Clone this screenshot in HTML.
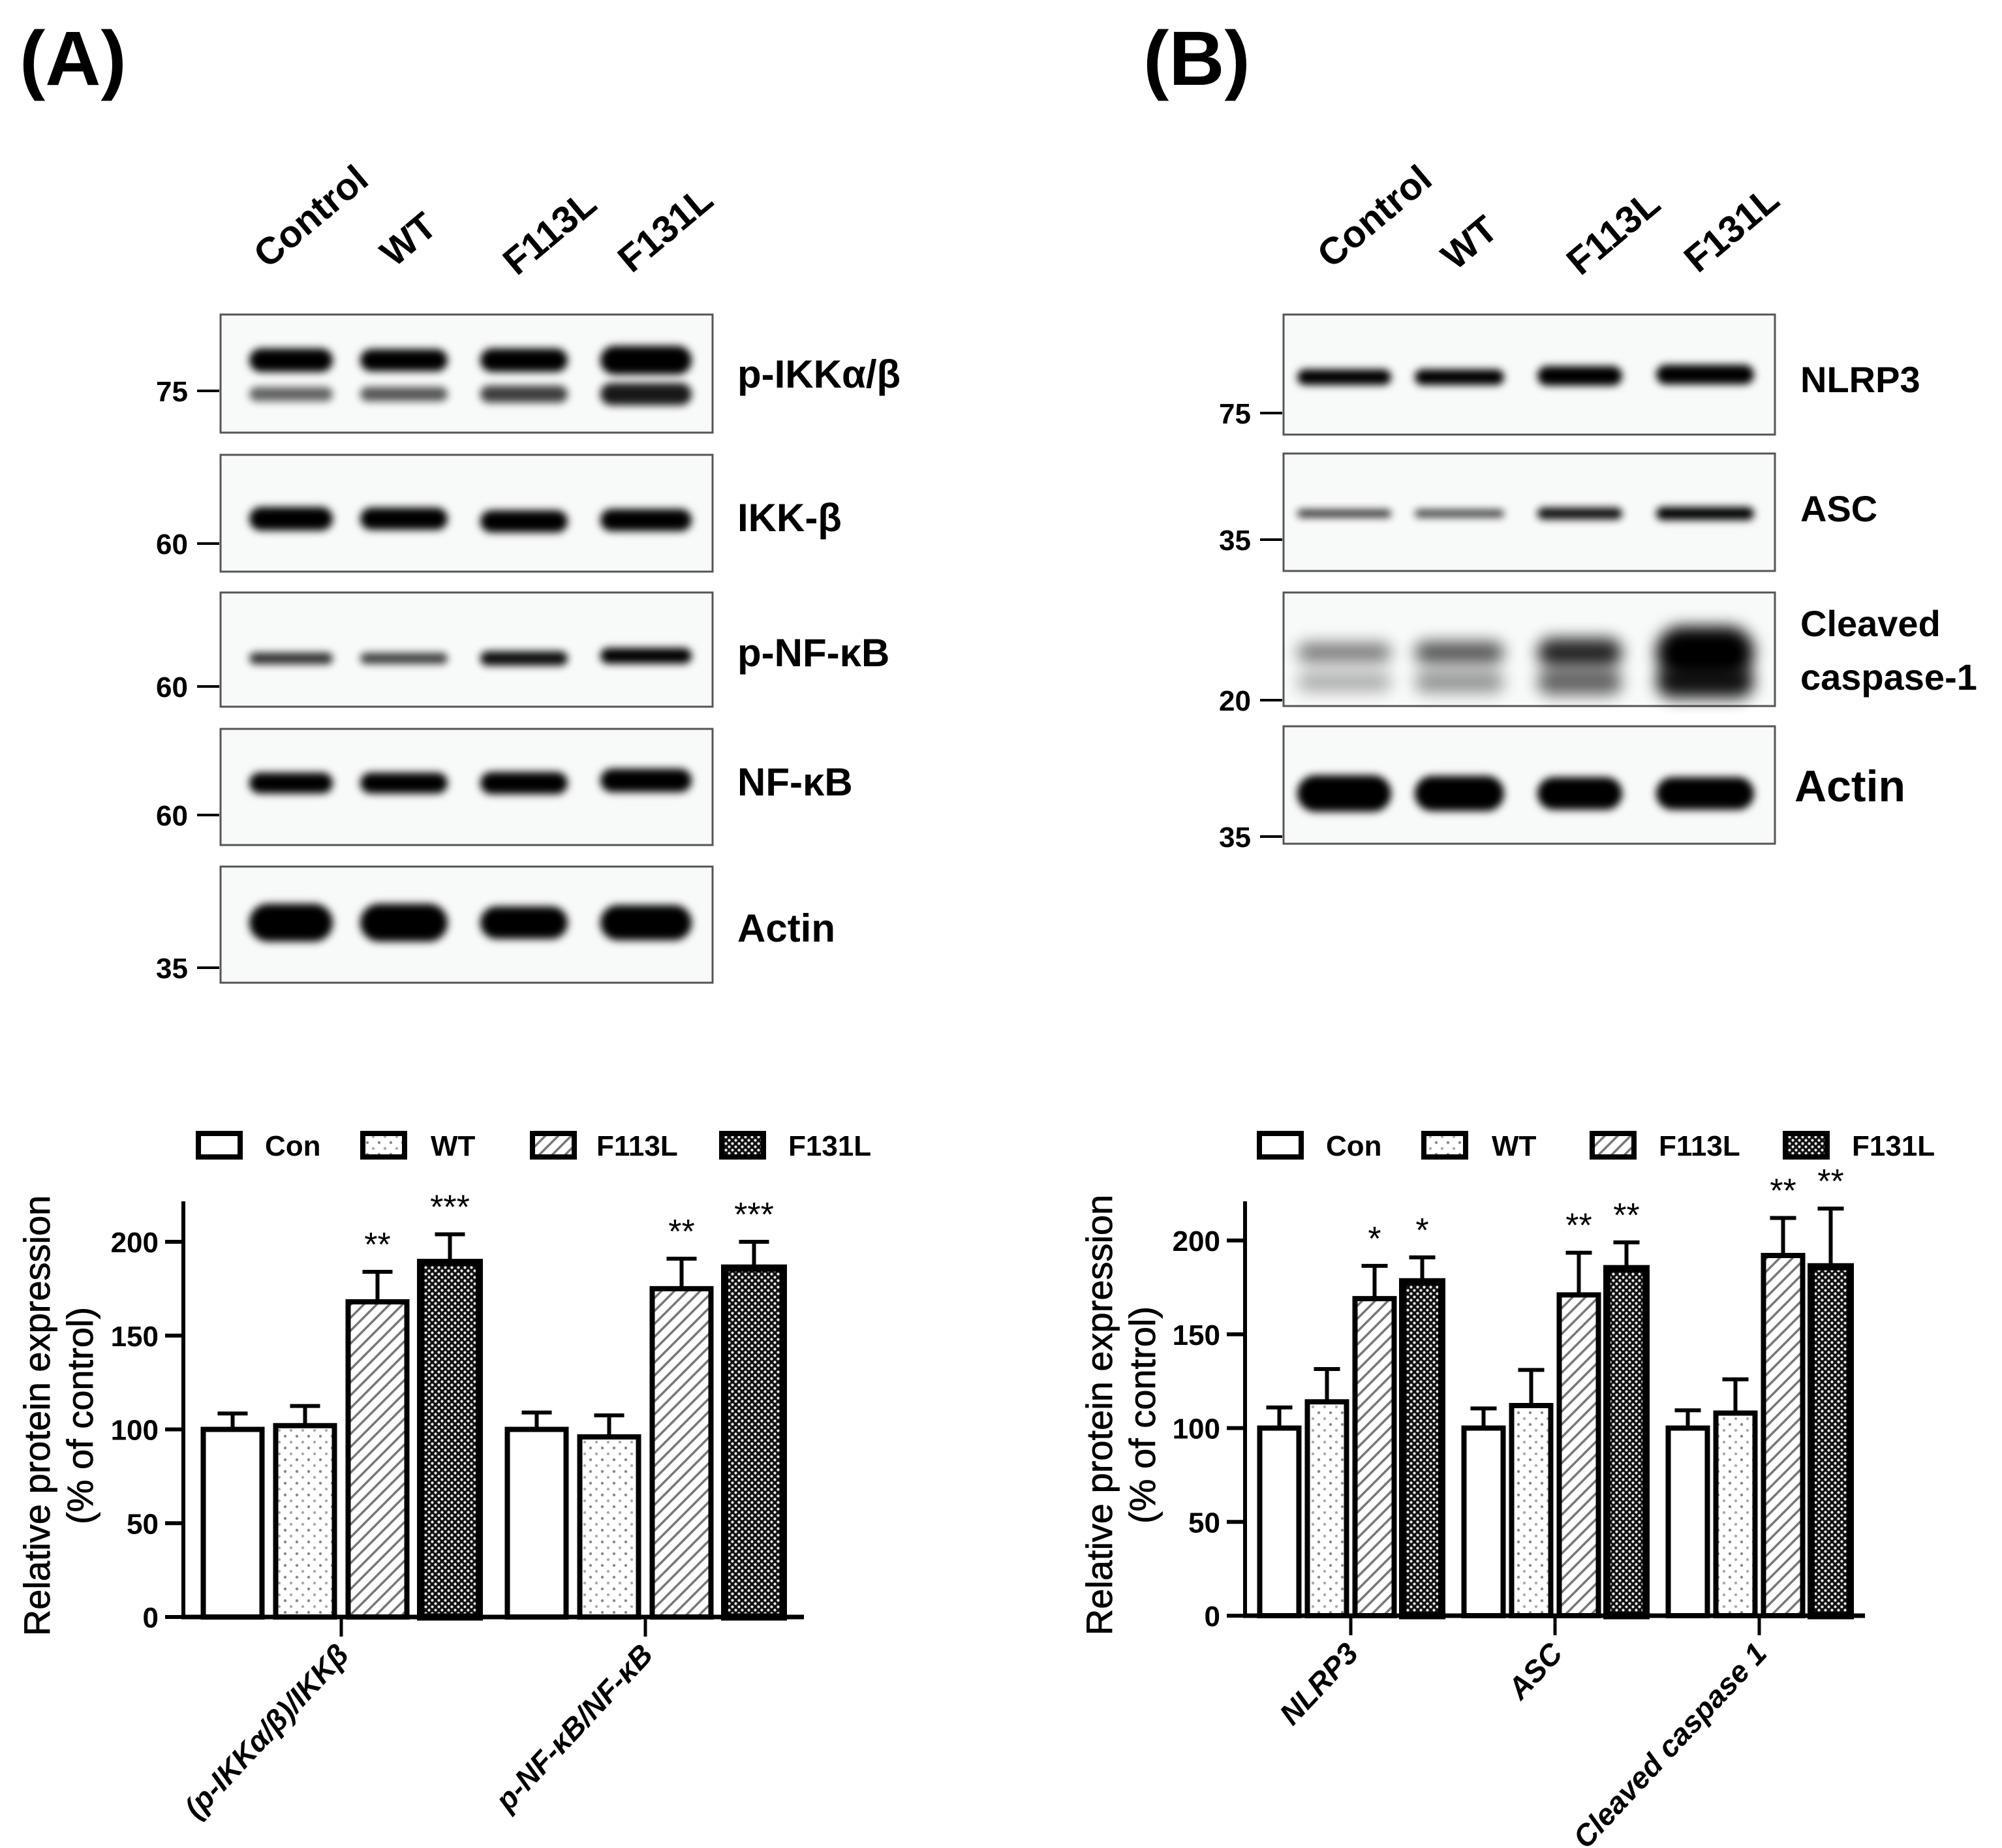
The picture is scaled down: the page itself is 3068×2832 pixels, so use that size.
<!DOCTYPE html>
<html><head><meta charset="utf-8">
<style>
html,body{margin:0;padding:0;background:#fff;}
svg{display:block;font-family:"Liberation Sans",Arial,sans-serif;}
</style></head>
<body>
<svg id="fig" width="3068" height="2832" viewBox="0 0 3068 2832" xmlns="http://www.w3.org/2000/svg">
<defs>
  <filter id="blur" x="-20%" y="-100%" width="140%" height="300%"><feGaussianBlur stdDeviation="6"/></filter>
  <filter id="blur2" x="-20%" y="-100%" width="140%" height="300%"><feGaussianBlur stdDeviation="12"/></filter>
  <pattern id="pDots" width="18" height="18" patternUnits="userSpaceOnUse">
    <rect width="18" height="18" fill="#fff"/><circle cx="5" cy="5" r="2.2" fill="#888"/><circle cx="14" cy="14" r="2.2" fill="#aaa"/>
  </pattern>
  <pattern id="pHatch" width="14" height="14" patternUnits="userSpaceOnUse" patternTransform="rotate(45)">
    <rect width="14" height="14" fill="#fff"/><rect x="0" y="0" width="3.5" height="14" fill="#777"/>
  </pattern>
  <pattern id="pCheck" width="10" height="10" patternUnits="userSpaceOnUse">
    <rect width="10" height="10" fill="#111"/><circle cx="2.5" cy="2.5" r="2.1" fill="#eee"/><circle cx="7.5" cy="7.5" r="2.1" fill="#eee"/>
  </pattern>
</defs>

<text x="30" y="130" font-size="118" font-weight="bold">(A)</text>
<text x="1752" y="130" font-size="118" font-weight="bold">(B)</text>

<g id="blots"></g>
<g id="chartA"></g>
<g id="chartB"></g>
</svg>

<script>
// ---------- Chart data ----------
const seriesNames = ["Con", "WT", "F113L", "F131L"];
const yTicks = [0, 50, 100, 150, 200];

const catsA = ["(p-IKKα/β)/IKKβ", "p-NF-κB/NF-κB"];
const meanA_Con   = [100, 100];
const meanA_WT    = [102, 96];
const meanA_F113L = [168, 175];
const meanA_F131L = [189, 186];
const errA_Con    = [8.5, 9];
const errA_WT     = [10.5, 11.5];
const errA_F113L  = [16, 16];
const errA_F131L  = [15, 14];
const sigA_F113L  = ["**", "**"];
const sigA_F131L  = ["***", "***"];

const catsB = ["NLRP3", "ASC", "Cleaved caspase 1"];
const meanB_Con   = [100, 100, 100];
const meanB_WT    = [114, 112, 108];
const meanB_F113L = [169, 171, 192];
const meanB_F131L = [178, 185, 186];
const errB_Con    = [11, 10.5, 9.5];
const errB_WT     = [17.5, 19, 18];
const errB_F113L  = [17.5, 22.5, 20];
const errB_F131L  = [13, 14, 31];
const sigB_F113L  = ["*", "**", "**"];
const sigB_F131L  = ["*", "**", "**"];

const NS = "http://www.w3.org/2000/svg";
function mk(parent, tag, attrs, text){
  const e = document.createElementNS(NS, tag);
  for (const k in attrs) e.setAttribute(k, attrs[k]);
  if (text !== undefined) e.textContent = text;
  parent.appendChild(e);
  return e;
}
const fills = ["#fff", "url(#pDots)", "url(#pHatch)", "url(#pCheck)"];

function drawChart(gid, L, cats, means, errs, sigs){
  const g = document.getElementById(gid);
  const y = v => L.y0 - v * L.ppu;
  const xc = (ci, si) => L.firstCenter + ci * L.spacing + (si - 1.5) * L.pitch;

  for (let s = 0; s < 4; s++){
    const lb = mk(g, "rect", {x: L.legBox[s], y: L.legY - 18, width: 64, height: 36, fill: fills[s], stroke: "#000", "stroke-width": 8});
    
    
    const lt = mk(g, "text", {x: L.legText[s], y: L.legY + 16, "font-size": 44, "font-weight": "bold"}, seriesNames[s]);
    
    
  }

  for (let c = 0; c < cats.length; c++){
    for (let s = 0; s < 4; s++){
      const cx = xc(c, s), v = means[s][c], e = errs[s][c];
      const ex = mk(g, "line", {x1: cx, x2: cx, y1: y(v), y2: y(v + e), stroke: "#000", "stroke-width": 6});
      
      
      const cap = mk(g, "line", {x1: cx - L.cap/2, x2: cx + L.cap/2, y1: y(v + e), y2: y(v + e), stroke: "#000", "stroke-width": 6});
      
      
      const sw = s === 3 ? 11 : 8;
      const b = mk(g, "rect", {x: cx - L.bw/2, y: y(v), width: L.bw, height: y(0) - y(v), fill: fills[s], stroke: "#000", "stroke-width": sw});
      
      
      if (s >= 2){
        const sg = sigs[s - 2][c];
        const st = mk(g, "text", {x: cx, y: y(v + e) - 24, "font-size": 52, "text-anchor": "middle"}, sg);
        
        
      }
    }
    const tk = mk(g, "line", {x1: L.firstCenter + c * L.spacing, x2: L.firstCenter + c * L.spacing, y1: L.y0, y2: L.y0 + 30, stroke: "#000", "stroke-width": 5});
    
    
    const tx = L.firstCenter + c * L.spacing + 14, ty = L.y0 + 60;
    const cl = mk(g, "text", {x: tx, y: ty, "font-size": 46, "font-weight": "bold", "font-style": "italic", "text-anchor": "end", transform: `rotate(-47 ${tx} ${ty})`}, cats[c]);
    
    
  }

  const ya = mk(g, "line", {x1: L.ax, x2: L.ax, y1: L.top, y2: L.y0 + 3, stroke: "#000", "stroke-width": 6});
  
  
  const xa = mk(g, "line", {x1: L.ax - 3, x2: L.xEnd, y1: L.y0, y2: L.y0, stroke: "#000", "stroke-width": 7});
  
  
  for (const t of yTicks){
    const tl = mk(g, "line", {x1: L.ax - 28, x2: L.ax, y1: y(t), y2: y(t), stroke: "#000", "stroke-width": 6});
    
    
    const tt = mk(g, "text", {x: L.ax - 38, y: y(t) + 16, "font-size": 44, "font-weight": "bold", "text-anchor": "end"}, String(t));
    
    
  }
  const cy = (L.y0 + L.top) / 2 + 10;
  const t1 = mk(g, "text", {x: L.titleX1, y: cy, "font-size": 56, "text-anchor": "middle", "stroke": "#000", "stroke-width": 0.8, transform: `rotate(-90 ${L.titleX1} ${cy})`}, "Relative protein expression");
  
  
  const t2 = mk(g, "text", {x: L.titleX2, y: cy, "font-size": 56, "text-anchor": "middle", "stroke": "#000", "stroke-width": 0.8, transform: `rotate(-90 ${L.titleX2} ${cy})`}, "(% of control)");
  
  
}

drawChart("chartA",
  {y0: 2478, ppu: 2.875, top: 1841, ax: 281, xEnd: 1232, firstCenter: 523, spacing: 466, pitch: 111, bw: 90, cap: 46,
   legY: 1755, legBox: [304, 556, 816, 1106], legText: [406, 660, 914, 1208], titleX1: 76, titleX2: 142},
  catsA, [meanA_Con, meanA_WT, meanA_F113L, meanA_F131L], [errA_Con, errA_WT, errA_F113L, errA_F131L], [sigA_F113L, sigA_F131L]);

drawChart("chartB",
  {y0: 2476, ppu: 2.875, top: 1841, ax: 1908, xEnd: 2858, firstCenter: 2070, spacing: 313, pitch: 73, bw: 60, cap: 40,
   legY: 1755, legBox: [1930, 2182, 2440, 2736], legText: [2032, 2286, 2542, 2838], titleX1: 1704, titleX2: 1770},
  catsB, [meanB_Con, meanB_WT, meanB_F113L, meanB_F131L], [errB_Con, errB_WT, errB_F113L, errB_F131L], [sigB_F113L, sigB_F131L]);

// ---------- Western blots ----------
const laneNames = ["Control", "WT", "F113L", "F131L"];
const bg = document.getElementById("blots");

function lanesHeader(starts){
  for (let i = 0; i < 4; i++){
    const [x, yy] = starts[i];
    const t = mk(bg, "text", {x: x, y: yy, "font-size": 58, "font-weight": "bold", transform: `rotate(-40 ${x} ${yy})`}, laneNames[i]);
    
    
  }
}
function panel(name, x, y1, y2, label, labelX, labelY, labelSize, marker, markerY, lanes, bands){
  const r = mk(bg, "rect", {x: x[0], y: y1, width: x[1] - x[0], height: y2 - y1, fill: "#f8f9f9", stroke: "#555", "stroke-width": 3});
  
  
  for (const b of bands){
    for (let i = 0; i < 4; i++){
      const [lx0, lx1] = lanes[i];
      const th = b.th[i];
      const e = mk(bg, "rect", {x: lx0, y: b.y - th/2 + (b.dy ? b.dy[i] : 0), width: lx1 - lx0, height: th, rx: th/2, fill: b.c || "#000", opacity: b.op ? b.op[i] : 1, filter: b.big ? "url(#blur2)" : "url(#blur)"});
      
      
    }
  }
  const lbls = label.split("|");
  lbls.forEach((s, k) => {
    const t = mk(bg, "text", {x: labelX, y: labelY + k * 82, "font-size": labelSize, "font-weight": "bold"}, s);
    
    
  });
  const tk = mk(bg, "line", {x1: x[0] - 36, x2: x[0] - 2, y1: markerY, y2: markerY, stroke: "#000", "stroke-width": 4});
  
  
  const mt = mk(bg, "text", {x: x[0] - 50, y: markerY + 16, "font-size": 44, "font-weight": "bold", "text-anchor": "end"}, marker);
  
  
}

lanesHeader([[410, 413], [604, 411], [792, 424], [968, 420]]);
const lanesA = [[382, 510], [552, 686], [736, 870], [920, 1060]];
const xA = [338, 1092];
panel("p-ikk", xA, 482, 663, "p-IKKα/β", 1130, 594, 60, "75", 599, lanesA,
  [{y: 552, th: [36, 34, 36, 44]}, {y: 604, th: [22, 22, 26, 34], op: [0.6, 0.65, 0.75, 0.9]}]);
panel("ikk-b", xA, 697, 876, "IKK-β", 1130, 814, 60, "60", 833, lanesA,
  [{y: 795, th: [36, 34, 34, 34], dy: [0, 0, 4, 2]}]);
panel("p-nfkb", xA, 908, 1083, "p-NF-κB", 1130, 1021, 60, "60", 1052, lanesA,
  [{y: 1009, th: [18, 17, 22, 24], op: [0.8, 0.75, 0.95, 1], dy: [0, 0, 0, -4]}]);
panel("nfkb", xA, 1117, 1295, "NF-κB", 1130, 1219, 60, "60", 1249, lanesA,
  [{y: 1200, th: [32, 32, 34, 36], dy: [0, 0, 0, -4]}]);
panel("actin-a", xA, 1328, 1506, "Actin", 1130, 1443, 60, "35", 1483, lanesA,
  [{y: 1414, th: [58, 58, 50, 54]}]);

lanesHeader([[2040, 413], [2230, 416], [2422, 424], [2602, 420]]);
const lanesB = [[1988, 2132], [2168, 2305], [2356, 2486], [2538, 2688]];
const xB = [1967, 2720];
panel("nlrp3", xB, 482, 666, "NLRP3", 2759, 601, 56, "75", 633, lanesB,
  [{y: 578, th: [24, 24, 30, 30], dy: [0, 0, -2, -4]}]);
panel("asc", xB, 695, 875, "ASC", 2759, 799, 56, "35", 827, lanesB,
  [{y: 787, th: [12, 12, 18, 20], op: [0.8, 0.75, 0.95, 1]}]);
panel("caspase-1", xB, 908, 1082, "Cleaved|caspase-1", 2759, 975, 56, "20", 1073, lanesB,
  [{y: 1000, th: [30, 34, 44, 80], op: [0.5, 0.65, 0.85, 1], big: true},
   {y: 1045, th: [30, 34, 40, 50], op: [0.3, 0.4, 0.6, 0.9], big: true}]);
panel("actin-b", xB, 1113, 1293, "Actin", 2750, 1228, 68, "35", 1282, lanesB,
  [{y: 1216, th: [56, 54, 50, 50]}]);
</script>
</body></html>
